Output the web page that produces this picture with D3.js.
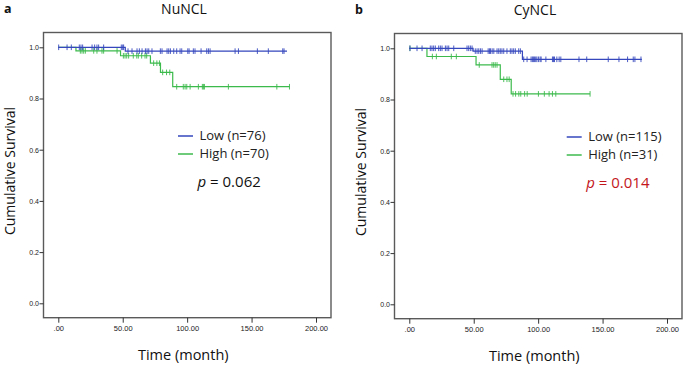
<!DOCTYPE html>
<html>
<head>
<meta charset="utf-8">
<script src="https://cdn.jsdelivr.net/npm/d3@7"></script>
<style>
  body { margin: 0; background: #fff; }
  svg { display: block; }
</style>
</head>
<body>
<div id="chart"></div>
<script>
// ---- data (months / cumulative survival) ----
const xTicks = [0, 50, 100, 150, 200]
const yTicks = [0, 0.2, 0.4, 0.6, 0.8, 1.0]

// panel a : NuNCL
const nuLowTimes = [0, 52]
const nuLowSurv = [1.0, 0.985]
const nuLowEnd = 177.5
const nuLowCensor = [0.3, 6.8, 10.1, 16.3, 17.6, 18.9, 26.2, 28.2, 30, 31.3, 35.2, 48.9, 50, 50.7,
    54.1, 57.2, 61.1, 62.9, 65, 67.6, 68.9, 70.2, 72.7, 79.2, 80.5, 84.4, 85.7, 87, 89.6, 91.9,
    94.5, 95.8, 100.5, 101.5, 104.8, 106.1, 110.8, 115.2, 116.5, 117.8, 137.2, 139.8, 154.5,
    163, 174.2, 175.2]

const nuHighTimes = [0, 13.7, 48.3, 71.5, 79.3, 88.8]
const nuHighSurv = [1.0, 0.986, 0.967, 0.938, 0.902, 0.846]
const nuHighEnd = 179.6
const nuHighCensor = [17.1, 18.4, 19.7, 21, 27.5, 30, 33.9, 35.2, 45.6, 50.5, 51.8, 53.1, 54.6,
    58.2, 60.9, 62.1, 64.7, 67.3, 68.6, 74, 76.5, 78.5, 81, 84, 86.5, 91.9, 97, 98.4, 99.7,
    102.3, 108.7, 111.8, 112.6, 113.4, 132, 169.6, 179.4]

// panel b : CyNCL
const cyLowTimes = [0, 49.5, 87.8]
const cyLowSurv = [1.0, 0.989, 0.957]
const cyLowEnd = 180.5
const cyLowCensor = [0.5, 6, 9.9, 16.3, 17.6, 18.9, 20.2, 22.8, 24.1, 25.4, 28, 29.3, 30.6, 34.5,
    44.8, 46.1, 47.4, 48.7, 51.2, 52.6, 53.9, 55.2, 56.5, 61.2, 62.2, 63, 64.3, 65.6, 68.1, 69.4,
    70.6, 71.9, 73.3, 75.8, 78.4, 79.7, 81, 82.3, 84.9, 86.2, 88.8, 91.4, 94.5, 95.5, 96.3, 97.1,
    98.1, 99, 100.2, 101.5, 102.3, 106, 111.1, 111.9, 112.7, 114.5, 116.3, 117.6, 131.7, 137.7,
    154.4, 162.7, 169.4, 173.8, 175.1, 179.8]

const cyHighTimes = [0, 13.7, 51.8, 70.6, 79.1]
const cyHighSurv = [1.0, 0.968, 0.935, 0.879, 0.822]
const cyHighEnd = 140.3
const cyHighCensor = [0.5, 17.9, 21, 32.6, 36.5, 54.3, 64.2, 65.5, 66.7, 68.1, 73.3, 75.8, 77.5,
    80.5, 82.5, 85, 86.5, 89.5, 91.5, 100.2, 104.8, 108.5, 111.1, 113.7, 140.3]

const lowColor = "#3647bd"
const highColor = "#3cba4c"

const panels = [
    {letter: "a", title: "NuNCL", left: 0, top: 0,
     low: {times: nuLowTimes, surv: nuLowSurv, end: nuLowEnd, censor: nuLowCensor, label: "Low (n=76)"},
     high: {times: nuHighTimes, surv: nuHighSurv, end: nuHighEnd, censor: nuHighCensor, label: "High (n=70)"},
     pText: "0.062", pColor: "#111"},
    {letter: "b", title: "CyNCL", left: 351, top: 1,
     low: {times: cyLowTimes, surv: cyLowSurv, end: cyLowEnd, censor: cyLowCensor, label: "Low (n=115)"},
     high: {times: cyHighTimes, surv: cyHighSurv, end: cyHighEnd, censor: cyHighCensor, label: "High (n=31)"},
     pText: "0.014", pColor: "#c3161c"}
]

const svg = d3.select("#chart").append("svg")
    .attr("width", 685)
    .attr("height", 370)

panels.forEach(p => drawPanel(p))

function drawPanel(p) {
    const g = svg.append("g").attr("transform", `translate(${p.left}, ${p.top})`)

    // scales
    const x = d3.scaleLinear().domain([0, 200]).range([58.3, 316])
    const y = d3.scaleLinear().domain([0, 1]).range([303.3, 47.3])

    // frame
    g.append("rect")
        .attr("x", 43.5).attr("y", 32.5)
        .attr("width", 287.5).attr("height", 285.2)
        .attr("fill", "none")
        .attr("stroke", "#5a5a5a")
        .attr("stroke-width", 1.4)

    // y axis
    const yAxis = d3.axisLeft(y).tickValues(yTicks).tickSize(4).tickFormat(d3.format(".1f"))
    const ya = g.append("g").attr("transform", "translate(43.5,0)").call(yAxis)
    ya.select(".domain").remove()
    ya.selectAll("line").attr("stroke", "#333")
    ya.selectAll("text")
        .attr("x", -4.5)
        .attr("dy", "0.35em")
        .style("font-family", "Liberation Sans, Arial, sans-serif")
        .style("font-size", "7px")
        .attr("fill", "#222")

    // x axis
    const xAxis = d3.axisBottom(x).tickValues(xTicks).tickSize(5)
        .tickFormat(d => d === 0 ? ".00" : d3.format(".2f")(d))
    const xa = g.append("g").attr("transform", "translate(0,317.7)").call(xAxis)
    xa.select(".domain").remove()
    xa.selectAll("line").attr("stroke", "#333")
    xa.selectAll("text")
        .attr("y", 8)
        .attr("dy", "0.71em")
        .style("font-family", "Liberation Sans, Arial, sans-serif")
        .style("font-size", "7.5px")
        .attr("fill", "#222")

    // survival curves
    const line = d3.line()
        .x(d => x(d[0]))
        .y(d => y(d[1]))
        .curve(d3.curveStepAfter)

    const groups = [[p.high, highColor], [p.low, lowColor]]
    groups.forEach(([s, col]) => {
        const pts = s.times.map((t, i) => [t, s.surv[i]])
        pts.push([s.end, s.surv[s.surv.length - 1]])
        g.append("path")
            .datum(pts)
            .attr("fill", "none")
            .attr("stroke", col)
            .attr("stroke-width", 1.2)
            .attr("d", line)

        const survAt = t => {
            let v = s.surv[0]
            s.times.forEach((tt, i) => { if (tt <= t) v = s.surv[i] })
            return v
        }
        g.selectAll(null)
            .data(s.censor)
            .enter()
            .append("line")
            .attr("x1", d => x(d)).attr("x2", d => x(d))
            .attr("y1", d => y(survAt(d)) - 2.8)
            .attr("y2", d => y(survAt(d)) + 2.8)
            .attr("stroke", col)
            .attr("stroke-width", 0.9)
    })

    // legend
    const legX = p.letter === "a" ? 178 : 215.7
    const leg = [[p.low, lowColor, 136], [p.high, highColor, 154]]
    leg.forEach(([s, col, ly]) => {
        g.append("line")
            .attr("x1", legX).attr("x2", legX + 15)
            .attr("y1", ly).attr("y2", ly)
            .attr("stroke", col).attr("stroke-width", 1.5)
        g.append("text")
            .attr("x", legX + 21.5).attr("y", ly + 4.3)
            .style("font-family", "Open Sans, sans-serif")
            .style("font-size", "13px")
            .attr("fill", "#222")
            .text(s.label)
    })

    const pt = g.append("text")
        .attr("x", legX + 19.5).attr("y", 187)
        .style("font-family", "Open Sans, sans-serif")
        .style("font-size", "15px")
        .attr("fill", p.pColor)
    pt.append("tspan").style("font-style", "italic").text("p")
    pt.append("tspan").text(" = " + p.pText)

    // titles and axis labels
    g.append("text")
        .attr("x", 184).attr("y", 13.8)
        .attr("text-anchor", "middle")
        .style("font-family", "Open Sans, sans-serif")
        .style("font-size", "14px")
        .attr("fill", "#111")
        .text(p.title)

    g.append("text")
        .attr("x", 4).attr("y", 13.3)
        .style("font-family", "Open Sans, sans-serif")
        .style("font-size", "12.5px")
        .style("font-weight", "bold")
        .attr("fill", "#111")
        .text(p.letter)

    g.append("text")
        .attr("transform", "translate(15,171) rotate(-90)")
        .attr("text-anchor", "middle")
        .style("font-family", "Open Sans, sans-serif")
        .style("font-size", "14px")
        .attr("fill", "#111")
        .text("Cumulative Survival")

    g.append("text")
        .attr("x", 183.3).attr("y", 360)
        .attr("text-anchor", "middle")
        .style("font-family", "Open Sans, sans-serif")
        .style("font-size", "14.5px")
        .attr("fill", "#111")
        .text("Time (month)")
}
</script>
</body>
</html>
